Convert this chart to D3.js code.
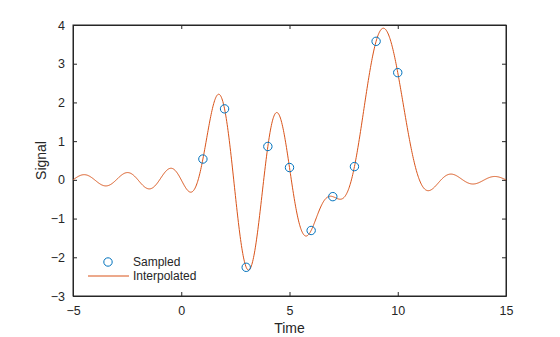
<!DOCTYPE html>
<html>
<head>
<meta charset="utf-8">
<script src="https://cdn.jsdelivr.net/npm/d3@7/dist/d3.min.js"></script>
<style>
  body { margin: 0; background: #fff; }
  svg { display: block; }
  text { font-family: "Liberation Sans", Arial, sans-serif; fill: #262626; }
</style>
</head>
<body>
<svg id="chart" width="560" height="337"></svg>
<script>
// Sampled signal
const sampleTimes = [1, 2, 3, 4, 5, 6, 7, 8, 9, 10];
const sampleValues = [0.5377, 1.8339, -2.2588, 0.8622, 0.3188, -1.3077, -0.4336, 0.3426, 3.5784, 2.7694];
const xTicks = [-5, 0, 5, 10, 15];
const yTicks = [-3, -2, -1, 0, 1, 2, 3, 4];
const xDomain = [-5, 15];
const yDomain = [-3, 4];

// Interpolated curve: band-limited (sinc) reconstruction of the samples
const sinc = x => x === 0 ? 1 : Math.sin(Math.PI * x) / (Math.PI * x);
const interpTimes = d3.range(-5, 15.0001, 0.02);
const interpValues = interpTimes.map(t =>
  d3.sum(sampleTimes, (n, i) => sampleValues[i] * sinc(t - n)));

const svg = d3.select("#chart");
const L = 73, R = 506, T = 25, B = 296;
const x = d3.scaleLinear().domain(xDomain).range([L, R]);
const y = d3.scaleLinear().domain(yDomain).range([B, T]);

const axisColor = "#262626";
const tl = 4;
const fmt = d3.format("d");

// Axes (ticks inside)
const gx = svg.append("g").attr("transform", `translate(0,${B})`)
  .call(d3.axisBottom(x).tickValues(xTicks).tickFormat(fmt).tickSizeInner(-tl).tickSizeOuter(0).tickPadding(8));
const gxt = svg.append("g").attr("transform", `translate(0,${T})`)
  .call(d3.axisTop(x).tickValues(xTicks).tickSizeInner(-tl).tickSizeOuter(0).tickFormat(""));
const gy = svg.append("g").attr("transform", `translate(${L},0)`)
  .call(d3.axisLeft(y).tickValues(yTicks).tickFormat(fmt).tickSizeInner(-tl).tickSizeOuter(0).tickPadding(8));
const gyr = svg.append("g").attr("transform", `translate(${R},0)`)
  .call(d3.axisRight(y).tickValues(yTicks).tickSizeInner(-tl).tickSizeOuter(0).tickFormat(""));
[gx, gxt, gy, gyr].forEach(g => {
  g.selectAll("path").attr("stroke", axisColor).attr("stroke-width", 1);
  g.selectAll("line").attr("stroke", axisColor).attr("stroke-width", 1);
  g.selectAll("text").style("font-size", "12.5px").attr("fill", axisColor)
    .style("font-family", '"Liberation Sans", Arial, sans-serif');
});
gx.selectAll("text").attr("dy", "0.85em");

// Box
svg.append("rect").attr("x", L).attr("y", T).attr("width", R - L).attr("height", B - T)
  .attr("fill", "none").attr("stroke", axisColor).attr("stroke-width", 1);

// Clip
svg.append("clipPath").attr("id", "clip").append("rect")
  .attr("x", L).attr("y", T).attr("width", R - L).attr("height", B - T);

// Interpolated line
const line = d3.line().x((d, i) => x(interpTimes[i])).y(d => y(d));
svg.append("path").datum(interpValues)
  .attr("clip-path", "url(#clip)")
  .attr("d", line).attr("fill", "none").attr("stroke", "#D95319").attr("stroke-width", 1);

// Sampled markers
svg.append("g").selectAll("circle").data(sampleValues).join("circle")
  .attr("cx", (d, i) => x(sampleTimes[i])).attr("cy", d => y(d)).attr("r", 4.2)
  .attr("fill", "none").attr("stroke", "#0072BD").attr("stroke-width", 1);

// Axis labels
svg.append("text").attr("x", (L + R) / 2).attr("y", 333).attr("text-anchor", "middle")
  .style("font-size", "14px").text("Time");
svg.append("text").attr("transform", `translate(46,${(T + B) / 2}) rotate(-90)`)
  .attr("text-anchor", "middle").style("font-size", "14px").text("Signal");

// Legend
const lg = svg.append("g");
lg.append("circle").attr("cx", 108).attr("cy", 262).attr("r", 4.2)
  .attr("fill", "none").attr("stroke", "#0072BD").attr("stroke-width", 1);
lg.append("line").attr("x1", 88).attr("x2", 129).attr("y1", 276).attr("y2", 276)
  .attr("stroke", "#D95319").attr("stroke-width", 1);
lg.append("text").attr("x", 133).attr("y", 262).attr("dy", "0.35em")
  .style("font-size", "12px").text("Sampled");
lg.append("text").attr("x", 133).attr("y", 276).attr("dy", "0.35em")
  .style("font-size", "12px").text("Interpolated");
</script>
</body>
</html>
